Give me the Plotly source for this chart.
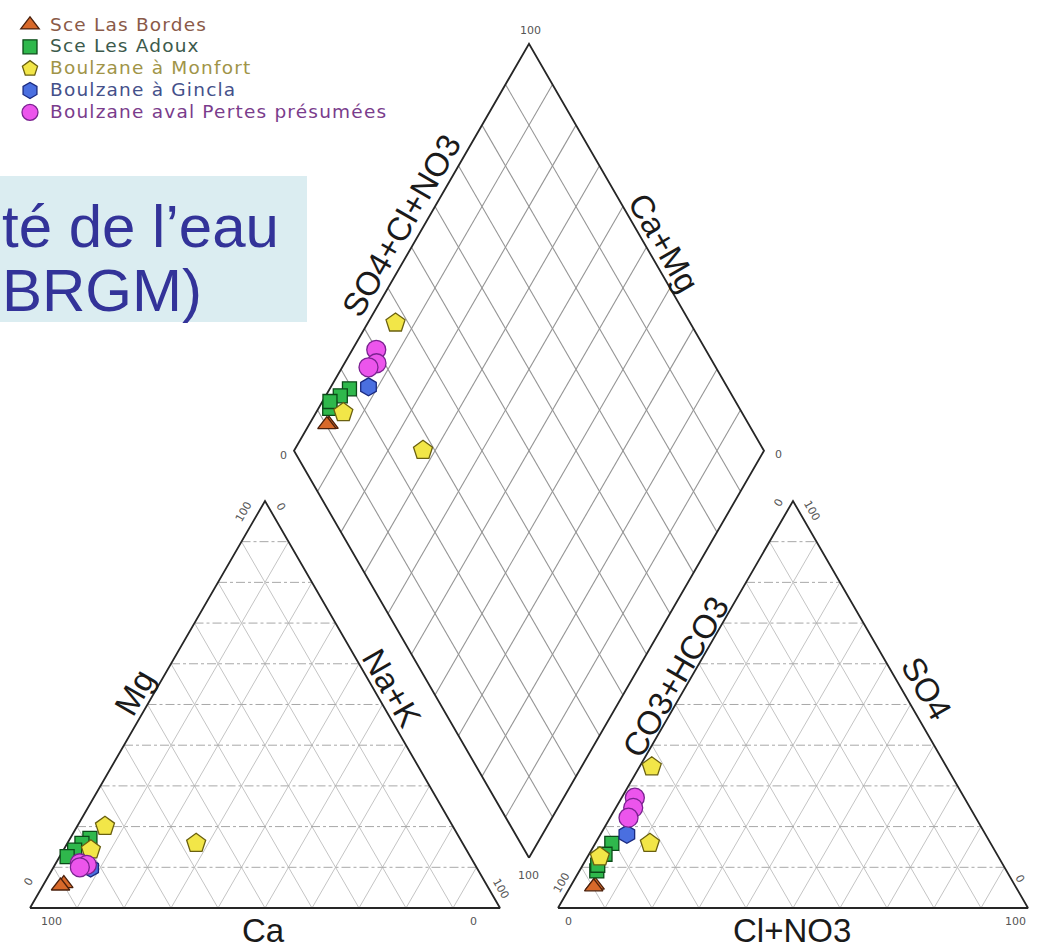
import math
import plotly.graph_objects as go

# ---------------- data (percent of meq/l) ----------------
series_names = ["Sce Las Bordes", "Sce Les Adoux", "Boulzane à Monfort",
                "Boulzane à Gincla", "Boulzane aval Pertes présumées"]

# cations
bordes_ca = [89.8, 90.8]
bordes_mg = [6.0, 5.4]
bordes_nak = [4.2, 3.8]
# anions
bordes_hco3 = [89.3, 89.8]
bordes_so4 = [5.6, 5.2]
bordes_cl = [5.1, 5.0]

adoux_ca = [78.7, 81.0, 83.4, 85.8]
adoux_mg = [17.1, 15.9, 14.2, 12.6]
adoux_nak = [4.2, 3.1, 2.4, 1.6]
adoux_hco3 = [80.6, 83.4, 87.2, 86.3]
adoux_so4 = [15.9, 13.2, 9.1, 10.5]
adoux_cl = [3.5, 3.4, 3.7, 3.2]

monfort_ca = [74.0, 56.7, 79.9]
monfort_mg = [20.1, 15.9, 14.3]
monfort_nak = [5.9, 27.4, 5.8]
monfort_hco3 = [62.7, 72.5, 84.8]
monfort_so4 = [34.7, 15.9, 12.6]
monfort_cl = [2.6, 11.6, 2.6]

gincla_ca = [82.2]
gincla_mg = [9.8]
gincla_nak = [8.0]
gincla_hco3 = [76.3]
gincla_so4 = [18.1]
gincla_cl = [5.6]

pertes_ca = [83.9, 82.6, 84.4]
pertes_mg = [11.0, 10.6, 10.0]
pertes_nak = [5.1, 6.8, 5.6]
pertes_hco3 = [70.1, 71.7, 73.9]
pertes_so4 = [27.1, 24.6, 22.2]
pertes_cl = [2.8, 3.7, 3.9]

tick_lo = "0"
tick_hi = "100"
grid_levels = [10, 20, 30, 40, 50, 60, 70, 80, 90]
box_lines = ["té de l’eau", "BRGM)"]

# ---------------- styles ----------------
fills = ["#d8692a", "#2fb84c", "#f2e648", "#4a6fe0", "#ec55ec"]
edges = ["#4a200c", "#0b4a18", "#6a6010", "#1a2a80", "#7a2290"]
symbols = ["triangle-up", "square", "pentagon", "hexagon", "circle"]
sizes = [16, 14, 20, 18, 19]
text_cols = ["#8a5a48", "#3c5a4c", "#a09448", "#44508a", "#7a3c8c"]

# ---------------- geometry ----------------
W, H = 1037, 950
K = 4.7            # pixels per percent unit
OX, OY = 30, 908   # pixel position of left triangle's Ca corner
S = 100.0
G = 58 / K
h = math.sqrt(3) / 2


def px2u(px, py):
    return (px - OX) / K, (OY - py) / K


def left_xy(ca, mg, na):
    t = ca + mg + na
    return (na + mg / 2) * S / t, mg * h * S / t


def right_xy(hco3, so4, cl):
    t = hco3 + so4 + cl
    return S + G + (cl + so4 / 2) * S / t, so4 * h * S / t


def diamond_xy(camg, so4cl):
    bx, by = S + G / 2, G * h
    return bx + 0.5 * (so4cl - camg) * S / 100, by + h * (camg + so4cl) * S / 100


A, B, C = (0, 0), (S, 0), (S / 2, S * h)
D, E, F = (S + G, 0), (2 * S + G, 0), (S + G + S / 2, S * h)
Lv, Tv = (S / 2 + G / 2, S * h + G * h), (S + G / 2, 2 * S * h + G * h)
Rv, Bv = (1.5 * S + G / 2, S * h + G * h), (S + G / 2, G * h)

fig = go.Figure()

# grid lines
hx, hy, dx, dy, qx, qy = [], [], [], [], [], []
for v in grid_levels:
    for tri in (left_xy, right_xy):
        p0 = tri(100 - v, v, 0); p1 = tri(0, v, 100 - v)
        hx += [p0[0], p1[0], None]; hy += [p0[1], p1[1], None]
        p0 = tri(v, 0, 100 - v); p1 = tri(v, 100 - v, 0)
        dx += [p0[0], p1[0], None]; dy += [p0[1], p1[1], None]
        p0 = tri(100 - v, 0, v); p1 = tri(0, 100 - v, v)
        dx += [p0[0], p1[0], None]; dy += [p0[1], p1[1], None]
    p0 = diamond_xy(v, 0); p1 = diamond_xy(v, 100)
    qx += [p0[0], p1[0], None]; qy += [p0[1], p1[1], None]
    p0 = diamond_xy(0, v); p1 = diamond_xy(100, v)
    qx += [p0[0], p1[0], None]; qy += [p0[1], p1[1], None]

fig.add_trace(go.Scatter(x=dx, y=dy, mode="lines", hoverinfo="skip", showlegend=False,
                         line=dict(color="#c4c4c4", width=1)))
fig.add_trace(go.Scatter(x=hx, y=hy, mode="lines", hoverinfo="skip", showlegend=False,
                         line=dict(color="#a8a8a8", width=1, dash="dashdot")))
fig.add_trace(go.Scatter(x=qx, y=qy, mode="lines", hoverinfo="skip", showlegend=False,
                         line=dict(color="#959595", width=1.1)))

ox, oy = [], []
for poly in ([A, B, C, A], [D, E, F, D], [Bv, Rv, Tv, Lv, Bv]):
    ox += [p[0] for p in poly] + [None]
    oy += [p[1] for p in poly] + [None]
fig.add_trace(go.Scatter(x=ox, y=oy, mode="lines", hoverinfo="skip", showlegend=False,
                         line=dict(color="#262626", width=1.8)))

# data
groups = [
    (bordes_ca, bordes_mg, bordes_nak, bordes_hco3, bordes_so4, bordes_cl),
    (adoux_ca, adoux_mg, adoux_nak, adoux_hco3, adoux_so4, adoux_cl),
    (monfort_ca, monfort_mg, monfort_nak, monfort_hco3, monfort_so4, monfort_cl),
    (gincla_ca, gincla_mg, gincla_nak, gincla_hco3, gincla_so4, gincla_cl),
    (pertes_ca, pertes_mg, pertes_nak, pertes_hco3, pertes_so4, pertes_cl),
]
for i, (ca, mg, na, hc, so, cl) in enumerate(groups):
    xs, ys = [], []
    for a, b, c in zip(ca, mg, na):
        x, y = left_xy(a, b, c); xs.append(x); ys.append(y)
    for a, b, c in zip(hc, so, cl):
        x, y = right_xy(a, b, c); xs.append(x); ys.append(y)
    for a, b, c, d2, e2, f2 in zip(ca, mg, na, hc, so, cl):
        camg = (a + b) / (a + b + c) * 100
        socl = (e2 + f2) / (d2 + e2 + f2) * 100
        x, y = diamond_xy(camg, socl); xs.append(x); ys.append(y)
    fig.add_trace(go.Scatter(
        x=xs, y=ys, mode="markers",
        name=(f"<span style='color:{text_cols[i]};font-size:18.5px;letter-spacing:1.2px'>"
              f"{series_names[i]}</span>"),
        marker=dict(symbol=symbols[i], size=sizes[i], color=fills[i],
                    line=dict(color=edges[i], width=1.3))))

# annotations
ann = []
title_font = dict(family="Liberation Sans", size=33, color="#1a1a1a")
for txt, px, py, ang in [
    ("Ca", 263, 930, 0), ("Cl+NO3", 792, 930, 0),
    ("Mg", 134, 692, -60), ("Na+K", 392, 687, 60),
    ("CO3+HCO3", 675, 677, -60), ("SO4", 927, 688, 60),
    ("SO4+Cl+NO3", 401, 225, -60), ("Ca+Mg", 664, 242, 60),
]:
    x, y = px2u(px, py)
    ann.append(dict(x=x, y=y, text=txt, textangle=ang, font=title_font, showarrow=False))

tick_font = dict(family="DejaVu Sans", size=11, color="#555555")
for txt, px, py, ang in [
    (tick_hi, 51, 921, 0), (tick_lo, 473, 921, 0),
    (tick_lo, 568, 921, 0), (tick_hi, 1015, 921, 0),
    (tick_lo, 28, 882, -60), (tick_hi, 243, 512, -60),
    (tick_lo, 281, 506, 60), (tick_hi, 501, 888, 60),
    (tick_hi, 561, 883, -60), (tick_lo, 778, 503, -60),
    (tick_hi, 812, 510, 60), (tick_lo, 1020, 878, 60),
    (tick_hi, 530, 30, 0), (tick_hi, 528, 875, 0),
    (tick_lo, 283, 455, 0), (tick_lo, 778, 454, 0),
]:
    x, y = px2u(px, py)
    ann.append(dict(x=x, y=y, text=txt, textangle=ang, font=tick_font, showarrow=False))

# slide title fragment (cut by the crop of the original slide)
box_font = dict(family="Liberation Sans", size=60, color="#333399")
ann.append(dict(xref="paper", yref="paper", x=0, y=1 - 226 / H, text=box_lines[0],
                xanchor="left", yanchor="middle", font=box_font, showarrow=False))
ann.append(dict(xref="paper", yref="paper", x=0, y=1 - 290 / H, text=box_lines[1],
                xanchor="left", yanchor="middle", font=box_font, showarrow=False))

fig.update_layout(
    width=W, height=H, margin=dict(l=0, r=0, t=0, b=0),
    paper_bgcolor="white", plot_bgcolor="white",
    xaxis=dict(range=[-OX / K, (W - OX) / K], visible=False, fixedrange=True),
    yaxis=dict(range=[-(H - OY) / K, OY / K], visible=False, fixedrange=True),
    shapes=[dict(type="rect", xref="paper", yref="paper", x0=-0.02, x1=307 / W,
                 y0=1 - 322 / H, y1=1 - 176 / H, fillcolor="#dbedf1",
                 line=dict(width=0), layer="below")],
    annotations=ann,
    legend=dict(x=10 / W, y=1 - 9 / H, xanchor="left", yanchor="top",
                bgcolor="rgba(0,0,0,0)",
                font=dict(family="DejaVu Sans", size=14.5), tracegroupgap=0),
)

fig.write_html("out.html", config={"displayModeBar": False},
               post_script="document.body.style.margin='0px';document.body.style.overflow='hidden';")
